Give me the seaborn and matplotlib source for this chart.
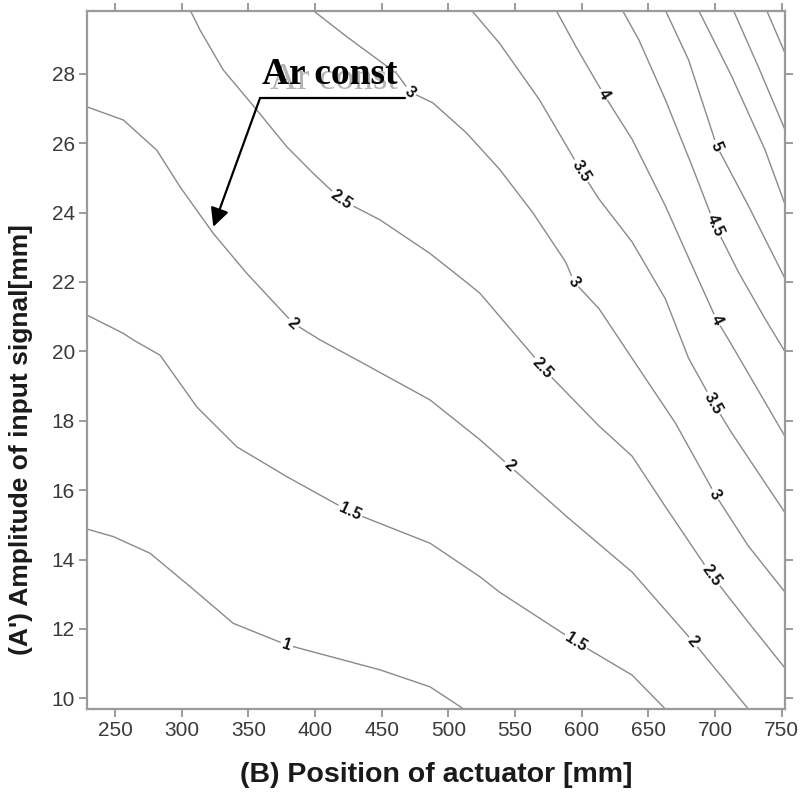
import numpy as np
import pandas as pd
import matplotlib
matplotlib.use("Agg")
import matplotlib.pyplot as plt
import seaborn as sns

# ---- contour lines (x = position [mm], y = amplitude [mm]) ----
c10_x = [228.8, 248.8, 276.3, 306.3, 338.7, 378.8, 448.8, 486.3, 511.2]
c10_y = [14.88, 14.66, 14.18, 13.22, 12.16, 11.54, 10.82, 10.33, 9.70]

c15_x = [228.8, 256.2, 263.7, 283.8, 311.3, 341.3, 378.8, 426.3, 486.3, 523.8, 538.4, 595.6, 637.8, 662.5]
c15_y = [21.05, 20.52, 20.33, 19.89, 18.40, 17.25, 16.39, 15.38, 14.47, 13.50, 13.06, 11.63, 10.67, 9.70]

c20_x = [228.8, 256.2, 281.3, 298.8, 323.7, 348.8, 383.7, 403.8, 436.0, 486.3, 523.8, 545.9, 588.1, 637.8, 683.6, 724.8]
c20_y = [27.05, 26.67, 25.80, 24.74, 23.40, 22.25, 20.81, 20.33, 19.66, 18.60, 17.45, 16.70, 15.26, 13.64, 11.63, 9.70]

c25_x = [306.3, 313.8, 331.2, 356.3, 378.8, 398.7, 420.0, 448.8, 486.3, 513.3, 523.8, 563.3, 570.7, 613.0, 637.8, 662.5, 697.6, 724.8, 752.5]
c25_y = [29.84, 29.26, 28.11, 26.96, 25.90, 25.13, 24.36, 23.79, 22.82, 22.00, 21.67, 19.89, 19.52, 17.85, 16.98, 15.54, 13.54, 12.20, 10.87]

c30_x = [398.1, 423.8, 461.3, 471.3, 488.5, 513.5, 538.4, 563.3, 588.1, 594.3, 613.0, 637.8, 670.2, 700.0, 724.8, 752.5]
c30_y = [29.84, 29.07, 28.01, 27.48, 27.16, 26.30, 25.25, 24.00, 22.57, 22.00, 21.23, 19.80, 17.94, 15.88, 14.40, 13.06]

c35_x = [517.2, 538.4, 568.2, 593.1, 599.4, 613.0, 637.9, 662.7, 680.2, 698.8, 712.5, 752.5]
c35_y = [29.84, 28.88, 27.26, 25.63, 25.20, 24.39, 23.15, 21.52, 19.80, 18.51, 17.65, 15.35]

c40_x = [580.7, 595.6, 616.7, 637.9, 662.7, 682.7, 701.3, 710.3, 752.5]
c40_y = [29.84, 28.79, 27.40, 26.11, 24.20, 22.48, 20.90, 20.33, 17.55]

c45_x = [630.4, 642.9, 662.7, 682.7, 700.0, 717.5, 737.4, 752.5]
c45_y = [29.84, 28.98, 27.26, 25.35, 23.63, 22.29, 20.95, 19.99]

c50_x = [662.7, 680.2, 701.3, 725.0, 752.5]
c50_y = [29.84, 28.40, 25.92, 24.20, 22.10]

c55_x = [687.6, 712.5, 737.4, 752.5]
c55_y = [29.84, 27.93, 25.82, 24.24]

c60_x = [713.7, 732.4, 752.5]
c60_y = [29.84, 28.21, 26.39]

c65_x = [738.6, 752.5]
c65_y = [29.84, 28.60]

levels = ["1", "1.5", "2", "2.5", "3", "3.5", "4", "4.5", "5", "5.5", "6", "6.5"]
lines_x = [c10_x, c15_x, c20_x, c25_x, c30_x, c35_x, c40_x, c45_x, c50_x, c55_x, c60_x, c65_x]
lines_y = [c10_y, c15_y, c20_y, c25_y, c30_y, c35_y, c40_y, c45_y, c50_y, c55_y, c60_y, c65_y]

# contour labels (level, x, y)
label_text = ["1", "1.5", "1.5", "2", "2", "2", "2.5", "2.5", "2.5", "3", "3", "3",
              "3.5", "3.5", "4", "4", "4.5", "5"]
label_x = [378.8, 426.3, 595.6, 383.7, 545.9, 683.6, 420.0, 570.7, 697.6, 471.3, 594.3, 700.0,
           599.4, 698.8, 616.7, 701.3, 700.0, 701.3]
label_y = [11.54, 15.38, 11.63, 20.81, 16.70, 11.63, 24.36, 19.52, 13.54, 27.48, 22.00, 15.88,
           25.20, 18.51, 27.40, 20.90, 23.63, 25.92]

x_ticks = [250, 300, 350, 400, 450, 500, 550, 600, 650, 700, 750]
y_ticks = [10, 12, 14, 16, 18, 20, 22, 24, 26, 28]

rows = []
for lev, xs, ys in zip(levels, lines_x, lines_y):
    for i, (a, b) in enumerate(zip(xs, ys)):
        rows.append({"level": lev, "order": i, "x": a, "y": b})
df = pd.DataFrame(rows)

sns.set_style("white")
plt.rcParams["font.family"] = ["Liberation Sans", "DejaVu Sans"]

fig = plt.figure(figsize=(8.03, 7.99), dpi=100)
ax = fig.add_axes([87.3 / 803, 1 - 708.5 / 799, (785 - 87.3) / 803, (708.5 - 10.7) / 799])

sns.lineplot(data=df, x="x", y="y", units="level", estimator=None, sort=False,
             color="#8a8a8a", linewidth=1.0, ax=ax, legend=False)

ax.set_xlim(229.2, 752.5)
ax.set_ylim(9.706, 29.82)
ax.set_xticks(x_ticks)
ax.set_yticks(y_ticks)
ax.set_xlabel("")
ax.set_ylabel("")

for s in ax.spines.values():
    s.set_visible(True)
    s.set_color("#9a9a9a")
    s.set_linewidth(1.6)
ax.tick_params(axis="both", which="both", direction="out", length=6, width=1.2,
               color="#8a8a8a", labelcolor="#3a3a3a", labelsize=15,
               top=True, right=True, bottom=True, left=True, pad=3)

# contour labels oriented along the lines
fig.canvas.draw()
for t, lx, ly in zip(label_text, label_x, label_y):
    k = levels.index(t)
    xs = np.array(lines_x[k]); ys = np.array(lines_y[k])
    pts = ax.transData.transform(np.column_stack([xs, ys]))
    p = ax.transData.transform((lx, ly))
    i = int(np.argmin(np.hypot(pts[:, 0] - p[0], pts[:, 1] - p[1])))
    a = pts[max(i - 1, 0)]; b = pts[min(i + 1, len(pts) - 1)]
    ang = np.degrees(np.arctan2(b[1] - a[1], b[0] - a[0]))
    if ang > 90: ang -= 180
    if ang < -90: ang += 180
    ax.text(lx, ly, t, rotation=ang, rotation_mode="anchor", ha="center", va="center",
            fontsize=11.5, fontweight="bold", color="#111111", zorder=5,
            bbox=dict(boxstyle="square,pad=0.12", fc="white", ec="none"))

# "Ar const" annotation
ann_corner = (358.75, 27.30)
ann_end = (467.5, 27.30)
ann_tip = (323.7, 23.59)
ax.plot([ann_corner[0], ann_end[0]], [ann_corner[1], ann_end[1]], color="black", lw=1.6, zorder=6)
ax.annotate("", xy=ann_tip, xytext=ann_corner,
            arrowprops=dict(arrowstyle="-|>", color="black", lw=1.6, mutation_scale=28,
                            shrinkA=0, shrinkB=0), zorder=6)
ax.text(366.5, 27.55, "Ar const", fontsize=27, family=["Liberation Serif", "DejaVu Serif"],
        color="#b5b5b5", ha="left", va="baseline", zorder=5)
ax.text(360.0, 27.72, "Ar const", fontsize=27, fontweight="bold",
        family=["Liberation Serif", "DejaVu Serif"], color="black", ha="left", va="baseline", zorder=6)

fig.text(436 / 803, 1 - 775 / 799, "(B) Position of actuator [mm]", ha="center", va="center",
         fontsize=20.5, fontweight="bold", color="#1a1a1a")
fig.text(21 / 803, 1 - 440 / 799, "(A') Amplitude of input signal[mm]", ha="center", va="center",
         rotation=90, fontsize=19, fontweight="bold", color="#1a1a1a")

fig.savefig("out.png", dpi=100)
